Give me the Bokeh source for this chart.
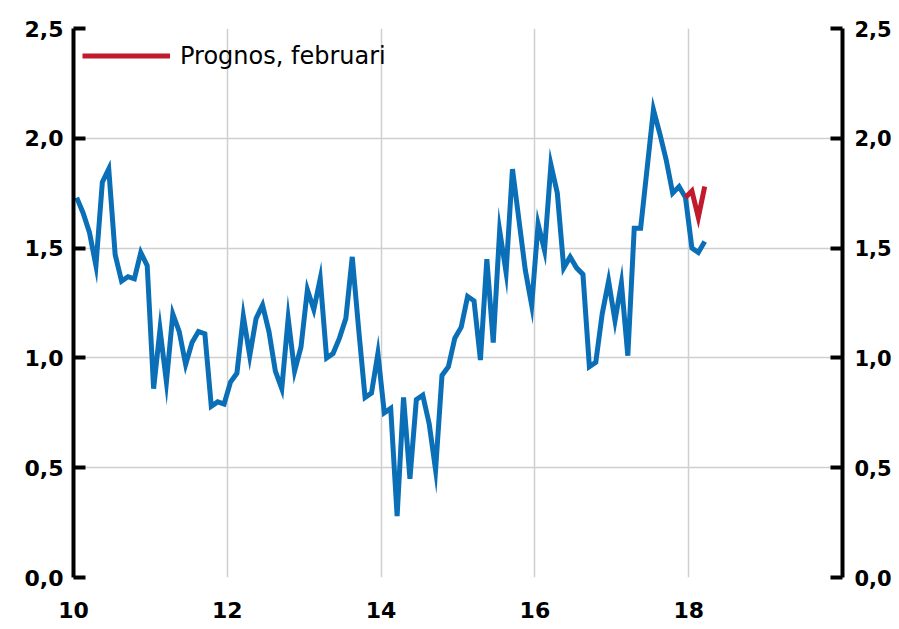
import pandas as pd
from bokeh.plotting import figure
from bokeh.models import LinearAxis, FixedTicker, Legend, LegendItem, Range1d, ColumnDataSource
from bokeh.embed import file_html
from bokeh.resources import INLINE

# ---- data (monthly, Jan 2010 - Mar 2018) ----
start_month = "2010-01"
actual = [
    1.73, 1.66, 1.57, 1.42, 1.80, 1.86, 1.47, 1.35, 1.37, 1.36, 1.48, 1.42,   # 2010
    0.86, 1.13, 0.89, 1.20, 1.12, 0.97, 1.07, 1.12, 1.11, 0.78, 0.80, 0.79,   # 2011
    0.89, 0.93, 1.19, 1.01, 1.18, 1.24, 1.12, 0.94, 0.86, 1.18, 0.94, 1.05,   # 2012
    1.31, 1.22, 1.36, 1.00, 1.02, 1.09, 1.18, 1.46, 1.13, 0.82, 0.84, 1.02,   # 2013
    0.75, 0.77, 0.28, 0.82, 0.45, 0.81, 0.83, 0.70, 0.49, 0.92, 0.96, 1.09,   # 2014
    1.14, 1.28, 1.26, 0.99, 1.45, 1.07, 1.58, 1.39, 1.86, 1.63, 1.40, 1.24,   # 2015
    1.61, 1.49, 1.88, 1.75, 1.41, 1.46, 1.41, 1.38, 0.96, 0.98, 1.20, 1.35,   # 2016
    1.17, 1.34, 1.01, 1.59, 1.59, 1.86, 2.13, 2.02, 1.90, 1.75, 1.78, 1.73,   # 2017
    1.50, 1.48, 1.53,                                                         # 2018
]
forecast_start = "2017-12"
forecast = [1.73, 1.76, 1.64, 1.78]
forecast_label = "Prognos, februari"

y_ticks = [0.0, 0.5, 1.0, 1.5, 2.0, 2.5]
y_tick_labels = ["0,0", "0,5", "1,0", "1,5", "2,0", "2,5"]
x_ticks = [10, 12, 14, 16, 18]
x_grid = [10, 12, 14, 16, 18, 20]


def month_pos(dates):
    # mid-month position on a "two-digit year" axis
    return [(d.year - 2000) + (d.month - 0.5) / 12.0 for d in dates]


act_dates = pd.date_range(start_month, periods=len(actual), freq="MS")
fc_dates = pd.date_range(forecast_start, periods=len(forecast), freq="MS")
src_act = ColumnDataSource(dict(x=month_pos(act_dates), y=actual))
src_fc = ColumnDataSource(dict(x=month_pos(fc_dates), y=forecast))

BLUE = "#0A6FB7"
RED = "#C01A2C"
GRID = "#CFCFCF"
FONT = "DejaVu Sans"

p = figure(width=899, height=629, x_range=Range1d(10, 20), y_range=Range1d(0, 2.5),
           output_backend="svg", toolbar_location=None,
           min_border_left=73, min_border_right=57, min_border_top=28, min_border_bottom=52)
p.outline_line_color = None
p.background_fill_color = "white"
p.border_fill_color = "white"

# grids
p.xgrid.ticker = FixedTicker(ticks=x_grid)
p.xgrid.grid_line_color = GRID
p.xgrid.grid_line_width = 1.5
p.ygrid.ticker = FixedTicker(ticks=y_ticks)
p.ygrid.grid_line_color = GRID
p.ygrid.grid_line_width = 1.5

# x axis (labels only)
xa = p.xaxis[0]
xa.ticker = FixedTicker(ticks=x_ticks)
xa.axis_line_color = None
xa.major_tick_line_color = None
xa.minor_tick_line_color = None
xa.major_label_standoff = 18
xa.major_label_text_font = FONT
xa.major_label_text_font_style = "bold"
xa.major_label_text_font_size = "22px"
xa.major_label_text_color = "black"

overrides = {t: s for t, s in zip(y_ticks, y_tick_labels)}


def style_y(ax):
    ax.ticker = FixedTicker(ticks=y_ticks)
    ax.major_label_overrides = overrides
    ax.axis_line_color = "black"
    ax.axis_line_width = 4
    ax.major_tick_line_color = "black"
    ax.major_tick_line_width = 4
    ax.major_tick_in = 12
    ax.major_tick_out = 0
    ax.minor_tick_line_color = None
    ax.major_label_standoff = 10
    ax.major_label_text_font = FONT
    ax.major_label_text_font_style = "bold"
    ax.major_label_text_font_size = "22px"
    ax.major_label_text_color = "black"


style_y(p.yaxis[0])
ra = LinearAxis()
style_y(ra)
ra.major_label_standoff = 12
ra.major_label_text_font_size = "21px"
p.add_layout(ra, "right")

# lines
p.line("x", "y", source=src_act, line_color=BLUE, line_width=5, line_join="miter")
r_fc = p.line("x", "y", source=src_fc, line_color=RED, line_width=5, line_join="miter")

legend = Legend(items=[LegendItem(label=forecast_label, renderers=[r_fc])],
                location="top_left", margin=9, padding=0,
                glyph_width=88, glyph_height=37, label_standoff=10,
                border_line_color=None, background_fill_alpha=0,
                label_text_font=FONT, label_text_font_size="24px",
                label_text_color="black")
p.add_layout(legend)

open("out.html", "w").write(file_html(p, INLINE))
